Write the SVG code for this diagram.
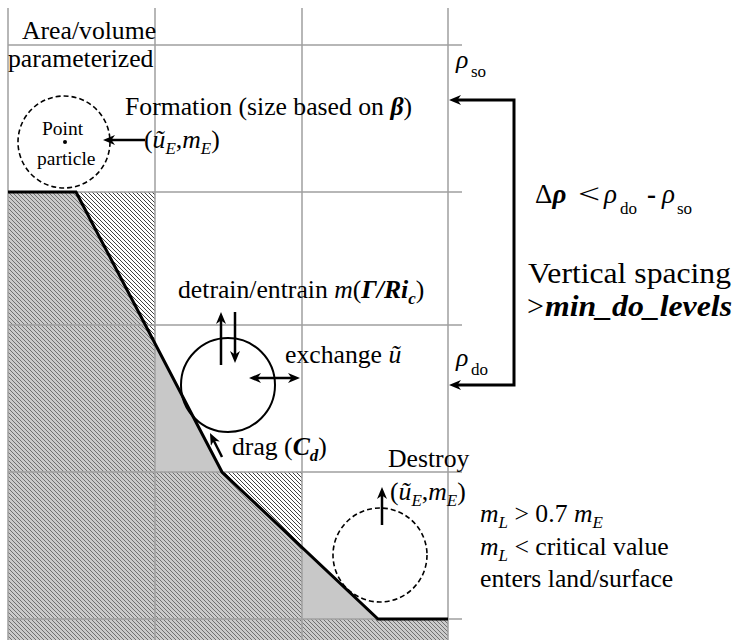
<svg xmlns="http://www.w3.org/2000/svg" width="737" height="640" viewBox="0 0 737 640">
<style>
text{font-family:"Liberation Serif","Times New Roman",serif;font-size:25.7px;fill:#000}
.it{font-style:italic}
.bi{font-style:italic;font-weight:bold}
.b{font-weight:bold}
.sub{font-size:17px}
.big{font-size:30px}
.grid{stroke:#a0a0a0;stroke-width:1.5;fill:none}
.arr{stroke:#000;stroke-width:2.5;fill:none;marker-end:url(#ah)}
.dash{fill:none;stroke:#000;stroke-width:1.6;stroke-dasharray:5 3}
</style>
<defs>
<pattern id="hd" width="4" height="4" patternUnits="userSpaceOnUse"><rect width="4" height="4" fill="#cbcbcb"/><path d="M-1,-1 L5,5 M3,-1 L5,1 M-1,3 L1,5" stroke="#666" stroke-width="0.9"/></pattern>
<pattern id="hl" width="4" height="4" patternUnits="userSpaceOnUse"><rect width="4" height="4" fill="#fff"/><path d="M-1,-1 L5,5 M3,-1 L5,1 M-1,3 L1,5" stroke="#111" stroke-width="0.8"/></pattern>
<marker id="ah" viewBox="0 0 12 10" refX="7" refY="5" markerWidth="12" markerHeight="10" markerUnits="userSpaceOnUse" orient="auto-start-reverse"><path d="M0,0 L12,5 L0,10 L3.5,5 z" fill="#000"/></marker>
</defs>
<rect width="737" height="640" fill="#fff"/>
<g id="terrain">
<polygon points="8,192 76,192 155,343.6 155,640 8,640" fill="url(#hd)"/>
<polygon points="76,192 155,192 155,343.6" fill="url(#hl)"/>
<polygon points="155,472 222,472 302,547.4 302,640 155,640" fill="url(#hd)"/>
<polygon points="222,472 302,472 302,547.4" fill="url(#hl)"/>
<rect x="302" y="619" width="146" height="21" fill="url(#hd)"/>
<polygon points="155,343.6 222,472 155,472" fill="#c8c8c8"/>
<polygon points="302,547.4 378,619 302,619" fill="#c8c8c8"/>
</g>
<g id="grid" class="grid">
<path d="M8,8 V640 M155,8 V640 M302,8 V640 M448,8 V640"/>
<path d="M8,45 H462 M8,192 H462 M8,325 H462 M8,472 H462 M8,619 H462"/>
</g>
<path id="surface" d="M8,192 H76 L222,472 L378,619 H448" fill="none" stroke="#000" stroke-width="3"/>
<g id="label_area">
<text x="22" y="39">Area/volume</text>
<text x="8" y="67">parameterized</text>
</g>
<g id="point_particle">
<circle class="dash" cx="64" cy="142" r="46"/>
<circle cx="65" cy="142" r="2" fill="#000"/>
<text x="42" y="135" style="font-size:19.5px">Point</text>
<text x="37" y="165" style="font-size:19.5px">particle</text>
</g>
<g id="formation">
<text x="125" y="115">Formation (size based on <tspan class="bi">β</tspan>)</text>
<text x="144" y="148">(<tspan class="it">ũ</tspan><tspan class="it sub" dy="6">E</tspan><tspan dy="-6">,</tspan><tspan class="it">m</tspan><tspan class="it sub" dy="6">E</tspan><tspan dy="-6">)</tspan></text>
</g>
<g id="rho_so"><text x="456" y="68" class="it">ρ</text><text x="471" y="77" class="sub">so</text></g>
<g id="rho_do"><text x="456" y="366" class="it">ρ</text><text x="471" y="375" class="sub">do</text></g>
<g id="delta_rho">
<text x="535" y="203" style="font-size:27px">Δ<tspan class="bi">ρ</tspan></text>
<text transform="translate(578,203) scale(1.45,1)" style="font-size:27px">&lt;</text>
<text x="604" y="203" class="it" style="font-size:27px">ρ</text><text x="620" y="214" class="sub">do</text>
<text x="647" y="203" class="b" style="font-size:27px">-</text>
<text x="662" y="203" class="it" style="font-size:27px">ρ</text><text x="677" y="214" class="sub">so</text>
</g>
<g id="vertical_spacing">
<text x="528" y="283" class="big" textLength="203" lengthAdjust="spacingAndGlyphs">Vertical spacing</text>
<text x="527" y="316" class="big">&gt;</text>
<text x="545" y="316" class="big bi" textLength="187" lengthAdjust="spacingAndGlyphs">min_do_levels</text>
</g>
<g id="particle">
<circle cx="228" cy="385" r="47" fill="none" stroke="#000" stroke-width="2"/>
</g>
<g id="detrain"><text x="178" y="298">detrain/entrain <tspan class="it">m</tspan>(<tspan class="bi">Γ/Ri</tspan><tspan class="bi sub" dy="6">c</tspan><tspan dy="-6">)</tspan></text></g>
<g id="exchange"><text x="285" y="363">exchange <tspan class="it">ũ</tspan></text></g>
<g id="drag"><text x="232" y="455">drag (<tspan class="bi">C</tspan><tspan class="bi sub" dy="6">d</tspan><tspan dy="-6">)</tspan></text></g>
<g id="destroy">
<text x="388" y="467">Destroy</text>
<text x="390" y="500">(<tspan class="it">ũ</tspan><tspan class="it sub" dy="6">E</tspan><tspan dy="-6">,</tspan><tspan class="it">m</tspan><tspan class="it sub" dy="6">E</tspan><tspan dy="-6">)</tspan></text>
<circle class="dash" cx="380" cy="555" r="47"/>
</g>
<g id="destroy_conditions">
<text x="480" y="522"><tspan class="it">m</tspan><tspan class="it sub" dy="6">L</tspan><tspan dy="-6"> &gt; 0.7 </tspan><tspan class="it">m</tspan><tspan class="it sub" dy="6">E</tspan></text>
<text x="480" y="555"><tspan class="it">m</tspan><tspan class="it sub" dy="6">L</tspan><tspan dy="-6"> &lt; critical value</tspan></text>
<text x="480" y="587">enters land/surface</text>
</g>
<g id="connectors">
<path class="arr" d="M145,140 H108"/>
<path d="M454,100 H514 V385 H454" fill="none" stroke="#000" stroke-width="3" marker-start="url(#ah)" marker-end="url(#ah)"/>
<path class="arr" d="M221,365 V317"/>
<path class="arr" d="M235,312 V358"/>
<path class="arr" d="M254,378 H295" marker-start="url(#ah)"/>
<path class="arr" d="M222,457 L212.2,437.5"/>
<path class="arr" d="M382,525 V492"/>
</g>
</svg>
